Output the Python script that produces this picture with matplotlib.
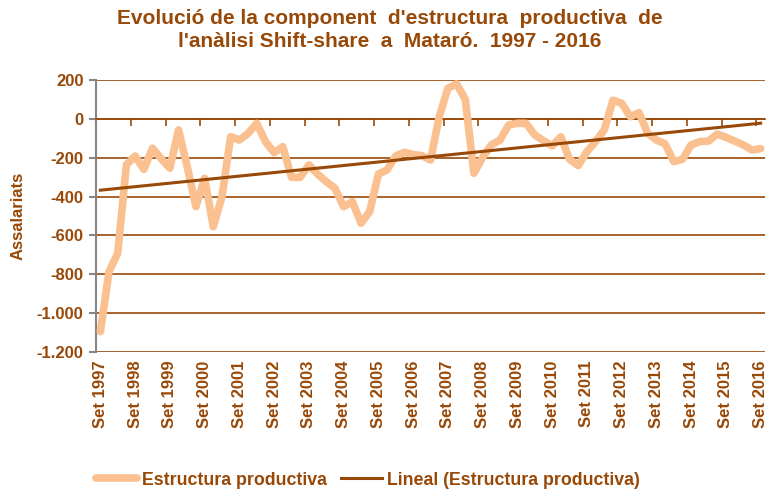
import numpy as np
import matplotlib
matplotlib.use("Agg")
import matplotlib.pyplot as plt

plt.rcParams['font.family'] = ['Liberation Sans', 'DejaVu Sans']

years = list(range(1997, 2017))
tick_labels = [f"Set {y}" for y in years]

values = [-1095, -786, -692, -237, -191, -260, -151, -205, -254, -57,
          -246, -452, -306, -555, -400, -92, -109, -75, -23, -117,
          -174, -143, -301, -301, -237, -284, -323, -357, -452, -426,
          -537, -478, -284, -263, -191, -172, -184, -189, -212, 11,
          157, 180, 101, -280, -198, -134, -109, -31, -23, -23,
          -83, -112, -139, -92, -208, -240, -169, -117, -57, 96,
          80, 11, 32, -74, -109, -129, -220, -208, -134, -117,
          -114, -78, -95, -114, -134, -160, -153]

brown = '#984807'
light = '#FAC090'

x = np.arange(len(values))
coef = np.polyfit(x, values, 1)
trend = np.polyval(coef, x)

fig = plt.figure(figsize=(7.71, 4.90), dpi=100)
ax = fig.add_axes([96/771, 1-352/490, (765-96)/771, (352-80)/490])

for yv in range(-1200, 201, 200):
    ax.axhline(yv, color=brown, lw=1.2, zorder=1)

ax.plot(x, values, color=light, lw=5.5, solid_joinstyle='round', solid_capstyle='round',
        label='Estructura productiva', zorder=3)
ax.plot(x, trend, color=brown, lw=2.2, label='Lineal (Estructura productiva)', zorder=4)

ax.set_xlim(-0.5, len(values) - 0.5)
ax.set_ylim(-1200, 200)

ax.spines['top'].set_visible(False)
ax.spines['right'].set_visible(False)
ax.spines['left'].set_color('#868686')
ax.spines['left'].set_linewidth(1.5)
ax.spines['bottom'].set_position(('data', 0))
ax.spines['bottom'].set_color(brown)
ax.spines['bottom'].set_linewidth(1.2)

ax.set_xticks(np.arange(-0.5, len(values), 4))
ax.set_xticklabels([])
ax.tick_params(axis='x', direction='out', length=5, width=1.2, color=brown)

yt = list(range(-1200, 201, 200))
ax.set_yticks(yt)
ax.set_yticklabels([f"{v:,}".replace(",", ".") for v in yt], fontsize=12,
                   fontweight='bold', color=brown)
ax.tick_params(axis='y', direction='out', length=5, width=1.5, color='#868686', pad=4)

sec = ax.secondary_xaxis('bottom')
sec.set_xticks(np.arange(0, len(values), 4))
sec.set_xticklabels(tick_labels, rotation=90, fontsize=12, fontweight='bold', color=brown)
sec.tick_params(length=0, pad=6)
sec.spines['bottom'].set_visible(False)

ax.set_ylabel('Assalariats', fontsize=12, fontweight='bold', color=brown, labelpad=8)

fig.text(0.505, 0.982, "Evolució de la component  d'estructura  productiva  de\nl'anàlisi Shift-share  a  Mataró.  1997 - 2016",
         ha='center', va='top', fontsize=15, fontweight='bold', color=brown, linespacing=1.25)

leg = fig.legend(loc='center', bbox_to_anchor=(368/771, 0.02), ncol=2, frameon=False,
                 prop={'weight': 'bold', 'size': 12.8}, handlelength=2.3, columnspacing=0.8,
                 handletextpad=0.3)
for t in leg.get_texts():
    t.set_color(brown)

fig.savefig('out.png', dpi=100)
